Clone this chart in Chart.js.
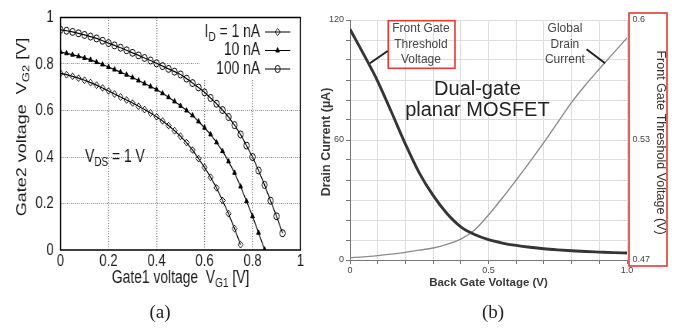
<!DOCTYPE html>
<html>
<head>
<meta charset="utf-8">
<script src="https://cdn.jsdelivr.net/npm/chart.js@4.4.1/dist/chart.umd.min.js"></script>
<style>
  html, body { margin: 0; padding: 0; background: #fff; }
  #page { position: relative; width: 679px; height: 329px; overflow: hidden; }
  /* panel (a) is drawn at natural width and squeezed horizontally */
  #chartA { position: absolute; left: 0; top: 0; transform: scaleX(0.77); transform-origin: 0 0; }
  #chartB { position: absolute; left: 318px; top: 0; }
  .cap { position: absolute; top: 301px; width: 40px; text-align: center; line-height: 22px;
         font: 19px "Liberation Serif", "Times New Roman", serif; color: #222; }
</style>
</head>
<body>
<div id="page">
  <canvas id="chartA" width="429" height="329"></canvas>
  <canvas id="chartB" width="361" height="329"></canvas>
  <div class="cap" style="left:140px">(a)</div>
  <div class="cap" style="left:473px">(b)</div>
</div>
<script>
const FONT = '"Liberation Sans", Arial, sans-serif';

// ---- panel (a): constant-current contours, VG2 vs VG1 ----
const vg1_1nA = [0,0.025,0.05,0.075,0.1,0.125,0.15,0.175,0.2,0.225,0.25,0.275,0.3,0.325,0.35,0.375,0.4,0.425,0.45,0.475,0.5,0.525,0.55,0.575,0.6,0.625,0.65,0.675,0.7,0.725,0.75];
const vg2_1nA = [0.760,0.754,0.747,0.739,0.730,0.720,0.709,0.697,0.684,0.671,0.658,0.645,0.632,0.618,0.604,0.589,0.573,0.555,0.535,0.513,0.489,0.462,0.430,0.393,0.355,0.313,0.267,0.213,0.156,0.092,0.023];

const vg1_10nA = [0,0.025,0.05,0.075,0.1,0.125,0.15,0.175,0.2,0.225,0.25,0.275,0.3,0.325,0.35,0.375,0.4,0.425,0.45,0.475,0.5,0.525,0.55,0.575,0.6,0.625,0.65,0.675,0.7,0.725,0.75,0.775,0.8,0.825,0.85];
const vg2_10nA = [0.851,0.846,0.840,0.833,0.826,0.818,0.808,0.798,0.787,0.776,0.765,0.754,0.742,0.729,0.716,0.703,0.690,0.674,0.657,0.639,0.620,0.600,0.579,0.553,0.526,0.497,0.463,0.425,0.381,0.332,0.273,0.210,0.145,0.074,0.002];

const vg1_100nA = [0,0.025,0.05,0.075,0.1,0.125,0.15,0.175,0.2,0.225,0.25,0.275,0.3,0.325,0.35,0.375,0.4,0.425,0.45,0.475,0.5,0.525,0.55,0.575,0.6,0.625,0.65,0.675,0.7,0.725,0.75,0.775,0.8,0.825,0.85,0.875,0.9,0.925];
const vg2_100nA = [0.947,0.943,0.938,0.932,0.925,0.918,0.910,0.900,0.890,0.880,0.870,0.859,0.848,0.837,0.826,0.815,0.803,0.791,0.779,0.767,0.755,0.737,0.718,0.699,0.678,0.654,0.629,0.602,0.572,0.537,0.497,0.449,0.400,0.342,0.280,0.212,0.145,0.072];

const seriesNamesA = ['1 nA', '10 nA', '100 nA'];
const ticksA = [0, 0.2, 0.4, 0.6, 0.8, 1];
const tickLabelsA = ['0', '0.2', '0.4', '0.6', '0.8', '1'];

// ---- panel (b): back gate sweep ----
const backGateV = [0,0.05,0.1,0.15,0.2,0.25,0.3,0.35,0.4,0.45,0.5,0.55,0.6,0.65,0.7,0.75,0.8,0.85,0.9,0.95,1.0];
const drainCurrent = [1.2,1.6,2.2,2.9,3.8,4.9,6.0,7.8,10.4,15.0,22.5,31.0,40.0,49.2,58.8,68.8,78.8,87.5,95.5,103.3,111.0];
const frontVth = [0.5950,0.5812,0.5668,0.5500,0.5328,0.5172,0.5050,0.4952,0.4880,0.4838,0.4810,0.4792,0.4779,0.4769,0.4761,0.4755,0.4750,0.4746,0.4743,0.4740,0.4738];

const xTicksB = [0, 0.5, 1.0];
const xTickLabelsB = ['0', '0.5', '1.0'];
const yLeftTicks = [0, 60, 120];
const yLeftTickLabels = ['0', '60', '120'];
const yRightTicks = [0.47, 0.535, 0.6];
const yRightTickLabels = ['0.47', '0.53', '0.6'];

const pts = (xs, ys) => xs.map((x, i) => ({ x: x, y: ys[i] }));

// text with subscripts: parts = [[text, isSub], ...]
function drawRich(ctx, parts, x, y, size, align) {
  const sub = Math.round(size * 0.72);
  let w = 0;
  parts.forEach(p => {
    ctx.font = (p[1] ? sub : size) + 'px ' + FONT;
    w += ctx.measureText(p[0]).width;
  });
  let cx = align === 'right' ? x - w : (align === 'center' ? x - w / 2 : x);
  ctx.textAlign = 'left';
  ctx.textBaseline = 'middle';
  parts.forEach(p => {
    ctx.font = (p[1] ? sub : size) + 'px ' + FONT;
    ctx.fillText(p[0], cx, p[1] ? y + size * 0.3 : y);
    cx += ctx.measureText(p[0]).width;
  });
}

function drawMarker(ctx, style, x, y, r, fill) {
  ctx.beginPath();
  if (style === 'circle') {
    ctx.arc(x, y, r, 0, Math.PI * 2);
  } else if (style === 'rectRot') {
    ctx.moveTo(x - r, y); ctx.lineTo(x, y - r); ctx.lineTo(x + r, y); ctx.lineTo(x, y + r); ctx.closePath();
  } else {
    for (let k = 0; k < 3; k++) {
      const a = k * 2 * Math.PI / 3;
      const px = x + Math.sin(a) * r, py = y - Math.cos(a) * r;
      k === 0 ? ctx.moveTo(px, py) : ctx.lineTo(px, py);
    }
    ctx.closePath();
  }
  if (fill) ctx.fill();
  ctx.stroke();
}

const styleA = [
  { pointStyle: 'rectRot', radius: 3.4, fill: false },
  { pointStyle: 'triangle', radius: 2.9, fill: true },
  { pointStyle: 'circle', radius: 3.5, fill: false }
];

const legendBox = { left: 259, right: 390, top: 10, bottom: 80 };

const panelA = {
  id: 'panelA',
  beforeDatasetsDraw(chart) {
    // opaque key area over the grid
    const ctx = chart.ctx;
    ctx.save();
    ctx.fillStyle = '#fff';
    ctx.fillRect(legendBox.left, legendBox.top, legendBox.right - legendBox.left, legendBox.bottom - legendBox.top);
    ctx.restore();
  },
  afterDraw(chart) {
    const ctx = chart.ctx, a = chart.chartArea;
    ctx.save();
    ctx.strokeStyle = '#000';
    ctx.lineWidth = 1.5;
    ctx.strokeRect(a.left, a.top, a.right - a.left, a.bottom - a.top);

    ctx.fillStyle = '#1a1a1a';
    drawRich(ctx, [['Gate1 voltage  V', false], ['G1', true], [' [V]', false]], (a.left + a.right) / 2, 278, 18, 'center');

    ctx.save();
    ctx.translate(28.6, 127);
    ctx.rotate(-Math.PI / 2);
    drawRich(ctx, [['Gate2 voltage  V', false], ['G2', true], [' [V]', false]], 0, 0, 18, 'center');
    ctx.restore();

    drawRich(ctx, [['V', false], ['DS', true], [' = 1 V', false]], 110.4, 157, 18, 'left');

    // key
    const rows = [32, 50.5, 69];
    const labels = [
      [['I', false], ['D', true], [' = ' + seriesNamesA[0], false]],
      [[seriesNamesA[1], false]],
      [[seriesNamesA[2], false]]
    ];
    rows.forEach((y, i) => {
      ctx.fillStyle = '#1a1a1a';
      drawRich(ctx, labels[i], 337.7, y, 18, 'right');
      ctx.strokeStyle = '#000';
      ctx.lineWidth = 1.2;
      ctx.beginPath(); ctx.moveTo(344, y); ctx.lineTo(377, y); ctx.stroke();
      ctx.fillStyle = '#000';
      ctx.lineWidth = 1;
      drawMarker(ctx, styleA[i].pointStyle, 360.5, y, styleA[i].radius, styleA[i].fill);
    });
    ctx.restore();
  }
};

const seriesA = [[vg1_1nA, vg2_1nA], [vg1_10nA, vg2_10nA], [vg1_100nA, vg2_100nA]];

const axisA = (isY) => ({
  type: 'linear', min: 0, max: 1,
  afterBuildTicks: s => { s.ticks = ticksA.map(v => ({ value: v })); },
  afterFit: s => { if (isY) s.width = 78.6; else s.height = 79; },
  ticks: {
    callback: (v, i) => tickLabelsA[i],
    font: { family: FONT, size: 17, lineHeight: 1 },
    color: '#1a1a1a',
    padding: isY ? 9 : 3,
    maxRotation: 0,
    autoSkip: false
  },
  grid: {
    drawTicks: false,
    lineWidth: isY ? 1 : 1.3,
    color: c => (c.tick && (c.tick.value === 0 || c.tick.value === 1)) ? 'rgba(0,0,0,0)' : '#6f6f6f'
  },
  border: { display: false, dash: [1, 1.6] }
});

new Chart(document.getElementById('chartA'), {
  type: 'scatter',
  data: {
    datasets: seriesA.map((s, i) => ({
      label: seriesNamesA[i],
      data: pts(s[0], s[1]),
      showLine: true,
      borderColor: '#000',
      borderWidth: 1.2,
      pointStyle: styleA[i].pointStyle,
      pointRadius: styleA[i].radius,
      pointBorderColor: '#000',
      pointBorderWidth: 1,
      pointBackgroundColor: styleA[i].fill ? '#000' : 'rgba(0,0,0,0)'
    }))
  },
  options: {
    responsive: false,
    animation: false,
    layout: { padding: { left: 0, top: 10, right: 38.7, bottom: 0 } },
    plugins: { legend: { display: false }, tooltip: { enabled: false } },
    scales: { x: axisA(false), y: axisA(true) }
  },
  plugins: [panelA]
});

// ---- panel (b) ----
const RED = '#e53a30';

const panelB = {
  id: 'panelB',
  afterDraw(chart) {
    const ctx = chart.ctx, a = chart.chartArea;
    const X = v => chart.scales.x.getPixelForValue(v);
    const Y = v => chart.scales.yL.getPixelForValue(v);
    ctx.save();

    // callouts
    ctx.strokeStyle = RED;
    ctx.lineWidth = 1.6;
    ctx.strokeRect(X(0.138), Y(119.65), X(0.379) - X(0.138), Y(95.85) - Y(119.65));
    ctx.strokeRect(a.right + 2, a.top - 7, 38, a.bottom - a.top + 13);

    ctx.fillStyle = '#454545';
    ctx.font = '12px ' + FONT;
    ctx.textAlign = 'center';
    ctx.textBaseline = 'middle';
    ['Front Gate', 'Threshold', 'Voltage'].forEach((t, i) => ctx.fillText(t, X(0.256), Y(115.65 - i * 7.75)));
    ['Global', 'Drain', 'Current'].forEach((t, i) => ctx.fillText(t, X(0.776), Y(115.65 - i * 7.75)));

    ctx.strokeStyle = '#222';
    ctx.lineWidth = 2;
    ctx.beginPath();
    ctx.moveTo(X(0.072), Y(98.4)); ctx.lineTo(X(0.136), Y(104.5));
    ctx.moveTo(X(0.854), Y(105.4)); ctx.lineTo(X(0.921), Y(98.4));
    ctx.stroke();

    ctx.fillStyle = '#222';
    ctx.font = '20px ' + FONT;
    ctx.fillText('Dual-gate', X(0.46), Y(85.35));
    ctx.fillText('planar MOSFET', X(0.46), Y(74.65));

    // axis titles
    ctx.fillStyle = '#3a3a3a';
    ctx.font = 'bold 11.5px ' + FONT;
    ctx.fillText('Back Gate Voltage (V)', (a.left + a.right) / 2, 283);

    ctx.save();
    ctx.translate(a.left - 23.5, 142);
    ctx.rotate(-Math.PI / 2);
    ctx.font = 'bold 12.5px ' + FONT;
    ctx.fillText('Drain Current (\u00b5A)', 0, 0);
    ctx.restore();

    ctx.save();
    ctx.translate(a.right + 33, 142.5);
    ctx.rotate(Math.PI / 2);
    ctx.font = '12.5px ' + FONT;
    ctx.fillStyle = '#333';
    ctx.fillText('Front Gate Threshold Voltage (V)', 0, 0);
    ctx.restore();

    ctx.restore();
  }
};

const pickLabel = (values, labels) => v => {
  const i = values.findIndex(t => Math.abs(t - v) < 1e-6);
  return i < 0 ? '' : labels[i];
};
const tickFontB = { family: FONT, size: 9, lineHeight: 1 };

new Chart(document.getElementById('chartB'), {
  type: 'line',
  data: {
    datasets: [
      {
        label: 'Front Gate Threshold Voltage',
        data: pts(backGateV, frontVth),
        yAxisID: 'yR',
        borderColor: '#353535',
        borderWidth: 2.8,
        pointRadius: 0,
        cubicInterpolationMode: 'monotone'
      },
      {
        label: 'Global Drain Current',
        data: pts(backGateV, drainCurrent),
        yAxisID: 'yL',
        borderColor: '#8c8c8c',
        borderWidth: 1.3,
        pointRadius: 0,
        cubicInterpolationMode: 'monotone'
      }
    ]
  },
  options: {
    responsive: false,
    animation: false,
    layout: { padding: { left: 0, top: 20, right: 0, bottom: 0 } },
    plugins: { legend: { display: false }, tooltip: { enabled: false } },
    scales: {
      x: {
        type: 'linear', min: 0, max: 1,
        afterFit: s => { s.height = 69; },
        ticks: {
          stepSize: 0.1, autoSkip: false, maxRotation: 0,
          callback: pickLabel(xTicksB, xTickLabelsB),
          font: tickFontB, color: '#444', padding: 2
        },
        grid: { color: '#dedede', tickColor: '#777', tickLength: 4 },
        border: { color: '#777' }
      },
      yL: {
        type: 'linear', position: 'left', min: 0, max: 120,
        afterFit: s => { s.width = 32; },
        ticks: {
          stepSize: 10, autoSkip: false,
          callback: pickLabel(yLeftTicks, yLeftTickLabels),
          font: tickFontB, color: '#444', padding: 2
        },
        grid: { color: '#dedede', tickColor: '#777', tickLength: 4 },
        border: { color: '#777' }
      },
      yR: {
        type: 'linear', position: 'right', min: 0.47, max: 0.6,
        afterFit: s => { s.width = 52; },
        afterBuildTicks: s => { s.ticks = yRightTicks.map(v => ({ value: v })); },
        ticks: {
          callback: (v, i) => yRightTickLabels[i],
          font: tickFontB, color: '#444', padding: 5.5
        },
        grid: { display: false, drawTicks: false },
        border: { display: false }
      }
    }
  },
  plugins: [panelB]
});
</script>
</body>
</html>
